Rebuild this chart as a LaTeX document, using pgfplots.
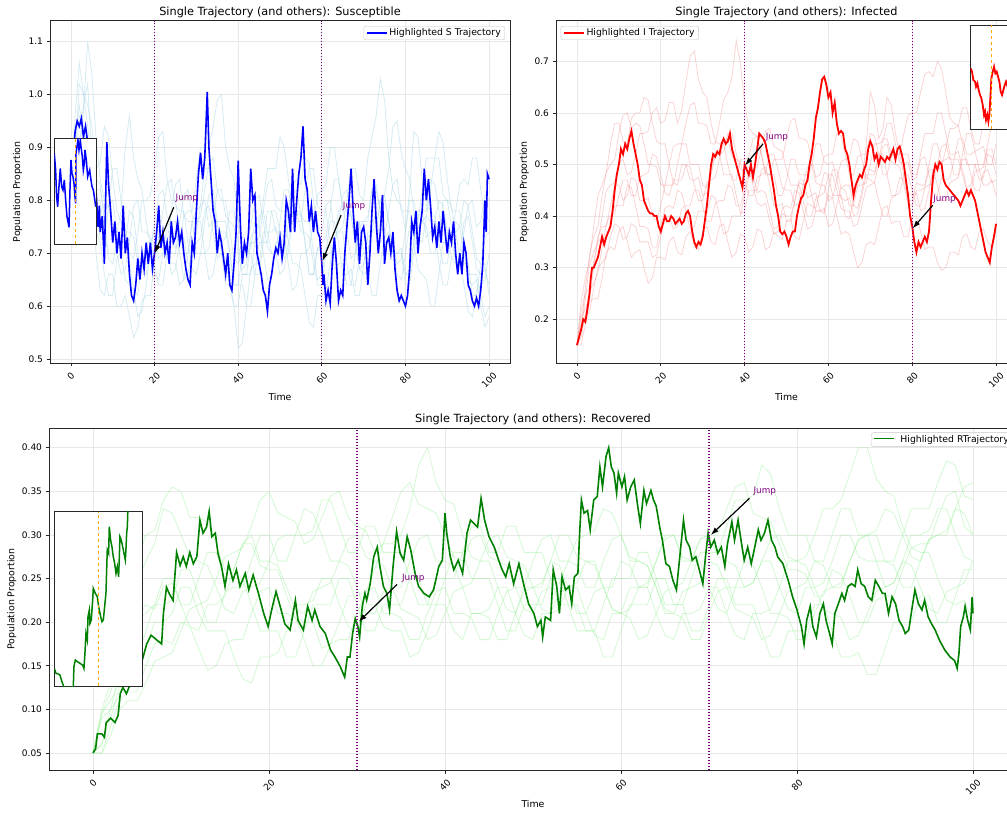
\documentclass[border=0pt]{standalone}
\usepackage{fontspec}
\setmainfont{DejaVu Sans}
\usepackage{graphicx}
\usepackage{pgfplots}
\pgfplotsset{compat=1.18}
\usepackage{pgfplotstable}
\usetikzlibrary{arrows.meta}

\definecolor{hlS}{RGB}{0,0,255}
\definecolor{bgS}{RGB}{173,216,230}
\definecolor{hlI}{RGB}{255,0,0}
\definecolor{bgI}{RGB}{240,128,128}
\definecolor{hlR}{RGB}{0,128,0}
\definecolor{bgR}{RGB}{144,238,144}
\definecolor{mpurple}{RGB}{128,0,128}
\definecolor{morange}{RGB}{255,165,0}
\definecolor{gridc}{RGB}{232,232,232}
\definecolor{spine}{RGB}{40,40,40}

\tikzset{
  vline/.style={mpurple, line width=1.2pt, dash pattern=on 1.2pt off 1.8pt},
  jumparrow/.style={-{Latex[length=8pt,width=5.5pt]}, line width=1.2pt, black},
  jumptext/.style={anchor=base west, text=mpurple, inner sep=0pt, font=\fontsize{8.8}{10}\selectfont},
}

\pgfplotsset{
  legend image code/.code={\draw[#1] (0pt,0pt) -- (20pt,0pt);},
}
\pgfplotsset{
  mainax/.style={
    scale only axis,
    xmin=-5, xmax=105,
    xtick={0,20,40,60,80,100},
    grid=major,
    major grid style={gridc, line width=0.8pt},
    axis line style={spine, line width=0.9pt},
    tick align=outside,
    major tick length=3.5pt,
    tick style={spine, line width=0.8pt},
    tick pos=left,
    /pgf/number format/assume math mode=true,
    tick label style={font=\fontsize{9}{10}\selectfont},
    xticklabel={\rotatebox{45}{\pgfmathprintnumber{\tick}}},
    xticklabel style={anchor=north, yshift=-2pt},
    label style={font=\fontsize{9.4}{11}\selectfont},
    every axis title/.style={at={(0.5,1)}, anchor=base, yshift=5.5pt, font=\fontsize{11.3}{13}\selectfont},
    xlabel={Time},
    ylabel={Population Proportion},
    xlabel style={at={(axis description cs:0.5,-0.0984)}, anchor=center},
    ylabel style={anchor=center},
    legend style={font=\fontsize{9.3}{10.5}\selectfont, draw=black!22, rounded corners=2pt, fill=white, fill opacity=0.8, text opacity=1, inner xsep=2pt, inner ysep=0.5pt},
    legend cell align=left,
  },
  insetax/.style={
    scale only axis, xmin=0, xmax=1, ymin=0, ymax=1, ticks=none,
    axis line style={spine, line width=0.9pt},
    axis background/.style={fill=white},
  },
}

\pgfplotstableread{
t a b c d e f g h
0 0.80 0.80 0.80 0.80 0.80 0.80 0.80 0.80
1 0.89 0.88 0.86 0.86 0.96 0.83 0.91 0.80
2 0.92 1.02 0.88 0.96 1.06 0.90 0.98 0.86
3 0.87 1.00 0.97 0.94 1.00 0.98 0.92 0.91
4 0.88 0.94 1.10 0.86 0.98 1.02 0.92 0.90
5 0.85 0.87 1.04 0.78 0.94 0.88 0.84 0.83
6 0.78 0.84 0.92 0.74 0.86 0.80 0.70 0.82
7 0.73 0.83 0.84 0.72 0.87 0.80 0.63 0.82
8 0.72 0.76 0.80 0.66 0.94 0.74 0.62 0.78
9 0.79 0.70 0.79 0.62 0.92 0.69 0.66 0.79
10 0.80 0.70 0.74 0.62 0.84 0.68 0.66 0.86
11 0.74 0.70 0.74 0.69 0.78 0.72 0.60 0.86
12 0.74 0.66 0.78 0.70 0.76 0.72 0.60 0.80
13 0.73 0.67 0.90 0.65 0.75 0.72 0.62 0.74
14 0.68 0.72 0.96 0.64 0.70 0.78 0.58 0.74
15 0.63 0.79 0.88 0.63 0.69 0.77 0.54 0.73
16 0.62 0.80 0.84 0.58 0.74 0.70 0.56 0.68
17 0.69 0.74 0.82 0.59 0.80 0.66 0.61 0.67
18 0.70 0.74 0.76 0.64 0.80 0.66 0.62 0.72
19 0.70 0.73 0.71 0.71 0.81 0.72 0.62 0.72
20 0.76 0.68 0.70 0.72 0.86 0.74 0.68 0.66
21 0.81 0.64 0.75 0.73 0.92 0.69 0.73 0.65
22 0.82 0.64 0.74 0.78 0.93 0.70 0.72 0.70
23 0.77 0.70 0.69 0.83 0.84 0.71 0.72 0.75
24 0.76 0.70 0.68 0.84 0.80 0.66 0.78 0.76
25 0.76 0.70 0.68 0.79 0.80 0.67 0.83 0.71
26 0.70 0.76 0.64 0.78 0.74 0.72 0.84 0.72
27 0.65 0.81 0.65 0.78 0.70 0.77 0.77 0.73
28 0.66 0.82 0.70 0.72 0.70 0.78 0.76 0.68
29 0.71 0.77 0.76 0.67 0.76 0.78 0.76 0.68
30 0.72 0.76 0.76 0.66 0.78 0.84 0.70 0.74
31 0.73 0.76 0.77 0.70 0.79 0.90 0.70 0.79
32 0.78 0.70 0.82 0.70 0.86 0.90 0.76 0.80
33 0.79 0.65 0.87 0.71 0.86 0.90 0.81 0.75
34 0.74 0.66 0.88 0.76 0.80 0.94 0.82 0.76
35 0.69 0.71 0.82 0.82 0.75 0.99 0.76 0.76
36 0.70 0.72 0.80 0.82 0.74 1.00 0.76 0.70
37 0.69 0.73 0.80 0.77 0.74 0.90 0.76 0.64
38 0.64 0.78 0.74 0.76 0.70 0.86 0.70 0.64
39 0.60 0.78 0.69 0.75 0.64 0.84 0.64 0.60
40 0.60 0.72 0.68 0.70 0.64 0.76 0.64 0.52
41 0.66 0.67 0.73 0.66 0.70 0.71 0.64 0.53
42 0.66 0.68 0.74 0.66 0.70 0.70 0.60 0.60
43 0.66 0.73 0.75 0.72 0.71 0.70 0.60 0.67
44 0.72 0.74 0.80 0.72 0.76 0.66 0.66 0.68
45 0.77 0.75 0.81 0.73 0.75 0.66 0.72 0.68
46 0.78 0.80 0.76 0.78 0.70 0.72 0.72 0.74
47 0.74 0.86 0.71 0.83 0.65 0.78 0.72 0.74
48 0.74 0.86 0.70 0.84 0.66 0.78 0.78 0.70
49 0.75 0.86 0.70 0.79 0.72 0.74 0.78 0.70
50 0.70 0.92 0.66 0.78 0.72 0.74 0.74 0.76
51 0.70 0.90 0.67 0.78 0.73 0.73 0.69 0.82
52 0.76 0.84 0.72 0.72 0.78 0.68 0.70 0.82
53 0.81 0.79 0.78 0.68 0.83 0.63 0.76 0.77
54 0.82 0.78 0.78 0.68 0.84 0.64 0.76 0.78
55 0.77 0.78 0.74 0.67 0.83 0.70 0.76 0.77
56 0.76 0.72 0.74 0.62 0.88 0.70 0.82 0.72
57 0.76 0.66 0.73 0.57 0.87 0.71 0.86 0.66
58 0.70 0.66 0.68 0.56 0.80 0.76 0.86 0.66
59 0.65 0.71 0.64 0.62 0.75 0.81 0.79 0.71
60 0.66 0.72 0.64 0.62 0.74 0.82 0.78 0.70
61 0.71 0.73 0.70 0.63 0.79 0.83 0.78 0.70
62 0.72 0.78 0.70 0.68 0.80 0.90 0.72 0.76
63 0.73 0.84 0.71 0.73 0.74 0.90 0.67 0.76
64 0.78 0.84 0.76 0.74 0.74 0.84 0.68 0.72
65 0.79 0.78 0.81 0.75 0.74 0.79 0.68 0.66
66 0.74 0.78 0.82 0.80 0.68 0.78 0.64 0.66
67 0.69 0.77 0.77 0.86 0.64 0.77 0.64 0.67
68 0.70 0.72 0.76 0.86 0.64 0.72 0.70 0.62
69 0.75 0.67 0.76 0.81 0.69 0.67 0.76 0.62
70 0.76 0.66 0.70 0.80 0.70 0.68 0.76 0.68
71 0.77 0.67 0.70 0.88 0.70 0.74 0.76 0.73
72 0.82 0.62 0.74 0.92 0.76 0.74 0.82 0.74
73 0.83 0.62 0.79 0.96 0.77 0.75 0.82 0.74
74 0.78 0.68 0.80 1.03 0.72 0.80 0.78 0.80
75 0.72 0.73 0.81 0.99 0.73 0.80 0.72 0.81
76 0.72 0.74 0.86 0.88 0.78 0.76 0.72 0.76
77 0.72 0.70 0.94 0.82 0.83 0.70 0.72 0.70
78 0.68 0.70 0.95 0.80 0.84 0.70 0.66 0.70
79 0.69 0.70 0.89 0.79 0.78 0.71 0.65 0.70
80 0.74 0.64 0.86 0.74 0.78 0.66 0.70 0.66
81 0.80 0.64 0.84 0.82 0.78 0.67 0.75 0.66
82 0.80 0.70 0.78 0.93 0.72 0.72 0.76 0.72
83 0.75 0.75 0.73 0.92 0.67 0.77 0.76 0.78
84 0.76 0.76 0.72 0.84 0.66 0.78 0.82 0.78
85 0.75 0.77 0.77 0.79 0.65 0.73 0.88 0.78
86 0.70 0.82 0.76 0.78 0.60 0.74 0.88 0.84
87 0.70 0.88 0.76 0.77 0.60 0.74 0.88 0.83
88 0.74 0.88 0.80 0.72 0.66 0.68 0.93 0.78
89 0.80 0.81 0.79 0.68 0.72 0.64 0.91 0.72
90 0.80 0.80 0.74 0.68 0.72 0.64 0.84 0.72
91 0.75 0.79 0.69 0.74 0.73 0.69 0.78 0.73
92 0.76 0.74 0.68 0.74 0.78 0.70 0.78 0.68
93 0.75 0.69 0.69 0.75 0.83 0.70 0.78 0.68
94 0.70 0.68 0.64 0.80 0.84 0.76 0.72 0.74
95 0.65 0.68 0.59 0.79 0.83 0.77 0.66 0.79
96 0.64 0.62 0.58 0.74 0.88 0.72 0.66 0.80
97 0.65 0.62 0.63 0.69 0.88 0.67 0.66 0.75
98 0.60 0.68 0.64 0.68 0.82 0.66 0.62 0.76
99 0.56 0.73 0.65 0.68 0.77 0.67 0.58 0.81
100 0.58 0.74 0.70 0.62 0.76 0.64 0.60 0.80
}\tblS

\pgfplotstableread{
t a b c d e f g h
0 0.15 0.15 0.15 0.15 0.15 0.15 0.15 0.15
1 0.205 0.185 0.19 0.18 0.235 0.165 0.215 0.15
2 0.22 0.26 0.20 0.24 0.28 0.21 0.25 0.19
3 0.24 0.325 0.215 0.305 0.315 0.255 0.26 0.235
4 0.30 0.36 0.26 0.33 0.38 0.27 0.31 0.24
5 0.36 0.38 0.30 0.35 0.44 0.29 0.35 0.24
6 0.38 0.44 0.31 0.40 0.46 0.34 0.36 0.28
7 0.38 0.485 0.32 0.45 0.485 0.385 0.355 0.33
8 0.42 0.50 0.36 0.46 0.54 0.40 0.39 0.34
9 0.46 0.51 0.385 0.465 0.58 0.405 0.42 0.335
10 0.46 0.56 0.38 0.50 0.58 0.44 0.42 0.37
11 0.43 0.595 0.355 0.51 0.545 0.47 0.42 0.38
12 0.44 0.60 0.36 0.48 0.54 0.47 0.46 0.35
13 0.475 0.57 0.385 0.485 0.59 0.44 0.455 0.32
14 0.47 0.58 0.38 0.52 0.60 0.44 0.42 0.33
15 0.43 0.575 0.35 0.56 0.60 0.475 0.38 0.335
16 0.43 0.54 0.35 0.56 0.63 0.48 0.38 0.30
17 0.435 0.50 0.35 0.565 0.625 0.485 0.375 0.27
18 0.40 0.50 0.32 0.60 0.58 0.52 0.34 0.28
19 0.39 0.495 0.325 0.61 0.545 0.515 0.34 0.32
20 0.42 0.46 0.36 0.58 0.54 0.48 0.38 0.32
21 0.46 0.46 0.395 0.585 0.54 0.445 0.415 0.315
22 0.46 0.50 0.40 0.62 0.50 0.44 0.42 0.35
23 0.46 0.535 0.375 0.62 0.465 0.47 0.415 0.36
24 0.50 0.54 0.38 0.58 0.46 0.47 0.45 0.33
25 0.54 0.54 0.415 0.605 0.50 0.47 0.445 0.325
26 0.54 0.58 0.42 0.66 0.50 0.50 0.41 0.36
27 0.50 0.615 0.42 0.71 0.47 0.495 0.375 0.37
28 0.50 0.62 0.45 0.72 0.47 0.46 0.38 0.34
29 0.50 0.58 0.45 0.665 0.475 0.43 0.41 0.335
30 0.46 0.58 0.42 0.64 0.44 0.43 0.41 0.37
31 0.455 0.575 0.39 0.63 0.445 0.465 0.405 0.38
32 0.49 0.54 0.39 0.58 0.48 0.47 0.44 0.35
33 0.525 0.54 0.425 0.545 0.52 0.475 0.435 0.345
34 0.52 0.58 0.43 0.54 0.52 0.51 0.40 0.38
35 0.48 0.625 0.43 0.54 0.525 0.545 0.365 0.385
36 0.48 0.64 0.46 0.50 0.56 0.55 0.37 0.35
37 0.48 0.67 0.455 0.47 0.56 0.515 0.40 0.32
38 0.44 0.74 0.42 0.47 0.52 0.51 0.40 0.33
39 0.405 0.695 0.42 0.51 0.49 0.505 0.40 0.365
40 0.41 0.62 0.45 0.51 0.49 0.47 0.44 0.36
41 0.45 0.57 0.485 0.515 0.495 0.44 0.475 0.33
42 0.45 0.56 0.49 0.55 0.46 0.44 0.48 0.34
43 0.45 0.555 0.495 0.555 0.425 0.475 0.445 0.375
44 0.49 0.52 0.53 0.52 0.42 0.48 0.45 0.37
45 0.495 0.48 0.565 0.485 0.425 0.485 0.445 0.335
46 0.46 0.48 0.57 0.48 0.39 0.52 0.41 0.34
47 0.42 0.51 0.535 0.48 0.365 0.52 0.375 0.37
48 0.42 0.51 0.53 0.44 0.37 0.49 0.38 0.36
49 0.425 0.51 0.525 0.44 0.405 0.455 0.415 0.355
50 0.39 0.55 0.49 0.47 0.40 0.45 0.42 0.39
51 0.39 0.585 0.46 0.51 0.40 0.45 0.415 0.395
52 0.43 0.59 0.46 0.51 0.43 0.42 0.45 0.36
53 0.47 0.55 0.46 0.48 0.465 0.425 0.445 0.355
54 0.47 0.55 0.43 0.48 0.46 0.46 0.41 0.39
55 0.435 0.545 0.40 0.48 0.465 0.495 0.375 0.425
56 0.44 0.51 0.40 0.44 0.50 0.50 0.38 0.42
57 0.445 0.475 0.435 0.41 0.54 0.465 0.41 0.415
58 0.41 0.48 0.44 0.41 0.54 0.46 0.41 0.45
59 0.41 0.515 0.445 0.415 0.505 0.46 0.405 0.485
60 0.45 0.52 0.48 0.38 0.50 0.43 0.44 0.48
61 0.49 0.52 0.48 0.385 0.505 0.435 0.435 0.44
62 0.49 0.56 0.45 0.42 0.47 0.47 0.40 0.44
63 0.455 0.555 0.415 0.455 0.435 0.505 0.365 0.44
64 0.46 0.52 0.41 0.45 0.43 0.51 0.37 0.40
65 0.46 0.48 0.41 0.42 0.435 0.515 0.365 0.395
66 0.42 0.48 0.38 0.42 0.40 0.55 0.33 0.43
67 0.415 0.515 0.385 0.46 0.405 0.545 0.30 0.47
68 0.45 0.52 0.42 0.46 0.44 0.51 0.31 0.47
69 0.49 0.52 0.455 0.465 0.48 0.475 0.345 0.535
70 0.49 0.56 0.46 0.50 0.48 0.47 0.35 0.64
71 0.485 0.555 0.465 0.54 0.48 0.465 0.345 0.615
72 0.52 0.52 0.50 0.54 0.51 0.43 0.38 0.55
73 0.52 0.48 0.535 0.545 0.55 0.40 0.415 0.57
74 0.48 0.48 0.54 0.58 0.55 0.40 0.42 0.63
75 0.44 0.515 0.505 0.58 0.52 0.435 0.385 0.615
76 0.44 0.52 0.50 0.54 0.52 0.44 0.39 0.56
77 0.475 0.52 0.495 0.505 0.52 0.445 0.39 0.52
78 0.47 0.56 0.46 0.50 0.48 0.48 0.36 0.52
79 0.43 0.595 0.425 0.505 0.445 0.48 0.36 0.52
80 0.43 0.60 0.42 0.47 0.44 0.45 0.40 0.48
81 0.465 0.60 0.45 0.475 0.445 0.42 0.40 0.48
82 0.46 0.64 0.45 0.51 0.41 0.42 0.37 0.52
83 0.46 0.675 0.455 0.515 0.415 0.455 0.335 0.56
84 0.50 0.68 0.49 0.48 0.45 0.46 0.34 0.56
85 0.54 0.67 0.49 0.445 0.49 0.465 0.34 0.56
86 0.54 0.70 0.46 0.44 0.49 0.50 0.31 0.60
87 0.505 0.685 0.43 0.475 0.495 0.535 0.295 0.60
88 0.51 0.64 0.43 0.47 0.53 0.54 0.30 0.56
89 0.515 0.59 0.465 0.475 0.57 0.51 0.33 0.52
90 0.48 0.58 0.47 0.51 0.57 0.51 0.33 0.52
91 0.48 0.575 0.475 0.55 0.575 0.51 0.325 0.525
92 0.52 0.54 0.51 0.55 0.61 0.48 0.36 0.49
93 0.56 0.50 0.51 0.52 0.61 0.45 0.365 0.455
94 0.56 0.50 0.48 0.52 0.57 0.45 0.34 0.46
95 0.525 0.50 0.45 0.525 0.54 0.485 0.335 0.50
96 0.53 0.47 0.45 0.49 0.54 0.49 0.37 0.50
97 0.535 0.475 0.485 0.46 0.58 0.495 0.375 0.50
98 0.50 0.52 0.49 0.46 0.58 0.53 0.35 0.54
99 0.50 0.515 0.465 0.47 0.575 0.53 0.34 0.58
100 0.54 0.48 0.47 0.44 0.60 0.50 0.37 0.58
}\tblI

\pgfplotstableread{
t a b c d e f g h
0 0.05 0.05 0.05 0.05 0.05 0.05 0.05 0.05
1 0.09 0.05 0.095 0.06 0.095 0.05 0.10 0.06
2 0.10 0.08 0.12 0.09 0.11 0.07 0.13 0.10
3 0.115 0.11 0.15 0.125 0.13 0.10 0.16 0.14
4 0.16 0.12 0.20 0.13 0.17 0.11 0.22 0.15
5 0.205 0.12 0.245 0.14 0.205 0.11 0.27 0.155
6 0.22 0.15 0.27 0.17 0.21 0.13 0.30 0.19
7 0.215 0.175 0.29 0.20 0.22 0.155 0.305 0.22
8 0.24 0.18 0.33 0.20 0.25 0.16 0.34 0.22
9 0.245 0.175 0.325 0.21 0.25 0.165 0.355 0.225
10 0.22 0.20 0.30 0.24 0.22 0.19 0.35 0.26
11 0.22 0.195 0.275 0.24 0.195 0.215 0.32 0.26
12 0.25 0.17 0.27 0.21 0.19 0.22 0.32 0.23
13 0.28 0.145 0.265 0.19 0.22 0.225 0.315 0.20
14 0.28 0.15 0.24 0.19 0.22 0.25 0.29 0.20
15 0.25 0.175 0.215 0.19 0.23 0.275 0.26 0.235
16 0.25 0.18 0.21 0.16 0.26 0.28 0.26 0.24
17 0.25 0.18 0.235 0.135 0.29 0.285 0.29 0.24
18 0.22 0.21 0.24 0.13 0.29 0.31 0.30 0.27
19 0.19 0.235 0.245 0.16 0.265 0.34 0.27 0.30
20 0.19 0.24 0.27 0.16 0.26 0.35 0.27 0.30
21 0.19 0.21 0.265 0.165 0.26 0.325 0.295 0.27
22 0.16 0.21 0.24 0.19 0.23 0.32 0.30 0.27
23 0.16 0.205 0.215 0.22 0.205 0.315 0.30 0.30
24 0.19 0.18 0.21 0.22 0.20 0.29 0.33 0.30
25 0.22 0.15 0.235 0.225 0.20 0.295 0.325 0.305
26 0.22 0.15 0.24 0.25 0.17 0.32 0.30 0.34
27 0.22 0.175 0.245 0.25 0.175 0.345 0.27 0.34
28 0.25 0.18 0.27 0.22 0.20 0.35 0.27 0.31
29 0.25 0.18 0.295 0.195 0.23 0.32 0.265 0.28
30 0.22 0.21 0.30 0.19 0.23 0.31 0.24 0.28
31 0.19 0.235 0.275 0.22 0.235 0.305 0.21 0.31
32 0.19 0.24 0.27 0.22 0.26 0.28 0.21 0.31
33 0.22 0.21 0.265 0.195 0.29 0.29 0.235 0.28
34 0.22 0.21 0.24 0.19 0.29 0.32 0.24 0.28
35 0.22 0.205 0.215 0.19 0.30 0.35 0.24 0.28
36 0.25 0.18 0.21 0.16 0.33 0.36 0.27 0.25
37 0.25 0.18 0.205 0.165 0.38 0.335 0.295 0.22
38 0.22 0.21 0.18 0.19 0.40 0.33 0.30 0.22
39 0.22 0.235 0.185 0.22 0.36 0.325 0.27 0.25
40 0.25 0.24 0.21 0.22 0.34 0.30 0.27 0.25
41 0.28 0.21 0.235 0.19 0.335 0.275 0.265 0.25
42 0.28 0.21 0.24 0.18 0.30 0.27 0.24 0.28
43 0.25 0.205 0.245 0.21 0.275 0.295 0.21 0.31
44 0.25 0.18 0.27 0.21 0.27 0.30 0.21 0.31
45 0.25 0.18 0.295 0.215 0.27 0.275 0.205 0.28
46 0.22 0.21 0.30 0.24 0.24 0.27 0.18 0.28
47 0.19 0.235 0.275 0.24 0.215 0.265 0.18 0.31
48 0.19 0.24 0.27 0.21 0.21 0.24 0.21 0.31
49 0.22 0.24 0.265 0.185 0.24 0.215 0.235 0.28
50 0.22 0.27 0.24 0.18 0.24 0.21 0.24 0.28
51 0.22 0.295 0.215 0.21 0.245 0.235 0.24 0.28
52 0.25 0.30 0.21 0.21 0.27 0.24 0.27 0.25
53 0.25 0.27 0.235 0.215 0.30 0.245 0.265 0.22
54 0.22 0.27 0.24 0.24 0.30 0.27 0.24 0.22
55 0.19 0.265 0.245 0.24 0.275 0.295 0.21 0.22
56 0.19 0.24 0.27 0.21 0.27 0.30 0.21 0.19
57 0.19 0.24 0.265 0.185 0.27 0.305 0.235 0.19
58 0.16 0.27 0.24 0.18 0.24 0.33 0.24 0.22
59 0.16 0.295 0.215 0.21 0.215 0.325 0.24 0.25
60 0.19 0.30 0.21 0.21 0.21 0.30 0.27 0.25
61 0.22 0.27 0.205 0.215 0.24 0.275 0.265 0.25
62 0.22 0.27 0.18 0.24 0.24 0.27 0.24 0.28
63 0.22 0.265 0.185 0.24 0.245 0.265 0.24 0.28
64 0.25 0.24 0.21 0.21 0.27 0.24 0.27 0.25
65 0.25 0.21 0.235 0.185 0.30 0.215 0.295 0.22
66 0.22 0.21 0.24 0.18 0.30 0.21 0.30 0.22
67 0.22 0.205 0.245 0.21 0.275 0.235 0.27 0.22
68 0.25 0.18 0.27 0.21 0.27 0.24 0.27 0.19
69 0.28 0.18 0.295 0.215 0.27 0.245 0.295 0.19
70 0.28 0.21 0.30 0.24 0.24 0.27 0.30 0.22
71 0.28 0.235 0.275 0.24 0.215 0.265 0.30 0.25
72 0.31 0.24 0.27 0.21 0.21 0.24 0.33 0.25
73 0.34 0.24 0.265 0.185 0.24 0.215 0.355 0.22
74 0.34 0.27 0.24 0.18 0.24 0.21 0.36 0.22
75 0.345 0.265 0.245 0.21 0.245 0.205 0.325 0.22
76 0.38 0.24 0.27 0.21 0.27 0.18 0.32 0.19
77 0.37 0.21 0.295 0.215 0.27 0.185 0.315 0.16
78 0.33 0.21 0.30 0.24 0.24 0.21 0.29 0.16
79 0.30 0.205 0.275 0.27 0.215 0.235 0.26 0.19
80 0.30 0.18 0.27 0.27 0.21 0.24 0.26 0.19
81 0.30 0.18 0.265 0.275 0.24 0.245 0.255 0.19
82 0.27 0.21 0.24 0.30 0.24 0.27 0.23 0.22
83 0.27 0.235 0.215 0.33 0.245 0.265 0.23 0.22
84 0.30 0.24 0.21 0.33 0.27 0.24 0.26 0.19
85 0.33 0.24 0.205 0.34 0.30 0.245 0.255 0.16
86 0.33 0.27 0.18 0.37 0.30 0.27 0.23 0.16
87 0.30 0.295 0.185 0.40 0.275 0.295 0.20 0.165
88 0.30 0.30 0.21 0.40 0.27 0.30 0.20 0.14
89 0.30 0.27 0.235 0.365 0.27 0.305 0.225 0.14
90 0.27 0.27 0.24 0.35 0.24 0.33 0.23 0.17
91 0.27 0.265 0.245 0.345 0.245 0.325 0.23 0.20
92 0.30 0.24 0.27 0.31 0.27 0.30 0.26 0.20
93 0.33 0.24 0.265 0.285 0.30 0.275 0.285 0.20
94 0.33 0.27 0.24 0.28 0.30 0.27 0.29 0.23
95 0.33 0.295 0.215 0.28 0.305 0.295 0.29 0.23
96 0.36 0.30 0.21 0.25 0.33 0.30 0.32 0.20
97 0.385 0.30 0.235 0.225 0.33 0.305 0.345 0.20
98 0.38 0.33 0.24 0.22 0.30 0.33 0.35 0.23
99 0.345 0.325 0.245 0.225 0.275 0.355 0.31 0.26
100 0.34 0.30 0.27 0.20 0.27 0.36 0.30 0.26
}\tblR

\begin{document}
\begin{tikzpicture}
\useasboundingbox (0pt,0pt) rectangle (1007pt,812pt);
\clip (0pt,0pt) rectangle (1007pt,812pt);

% ---------------- Susceptible ----------------
\begin{axis}[mainax, at={(50pt,449pt)}, width=460pt, height=342.3pt,
  ymin=0.4924, ymax=1.1397, ytick={0.5,0.6,0.7,0.8,0.9,1.0,1.1},
  yticklabel style={/pgf/number format/.cd,fixed,fixed zerofill,precision=1},
  title={Single Trajectory (and others): Susceptible},
  ylabel style={at={(axis description cs:-0.0707,0.5)}},
  legend style={at={(0.989,0.9845)}, anchor=north east}]
\pgfplotsinvokeforeach{a,b,c,d,e,f,g,h}{\addplot[bgS, opacity=0.5, line width=0.8pt, forget plot] table[x=t,y=#1]{\tblS};}
\addplot[hlS, line width=1.6pt, forget plot] coordinates {
(0,0.80) (0.5,0.88) (1,0.93) (1.5,0.95) (2,0.94) (2.5,0.955) (3,0.92) (3.5,0.94) (4,0.91) (4.5,0.90)
(5,0.88) (5.5,0.85) (6,0.82) (6.5,0.75) (6.8,0.79) (7,0.74) (7.5,0.77) (8,0.68) (8.3,0.80) (8.6,0.91)
(9,0.83) (9.5,0.78) (10,0.72) (10.5,0.76) (11,0.70) (11.5,0.74) (12,0.69) (12.5,0.79) (13,0.70) (13.5,0.73)
(14,0.66) (14.5,0.62) (15,0.61) (15.5,0.64) (16,0.69) (16.5,0.65) (17,0.70) (17.5,0.67) (18,0.72) (18.5,0.68)
(19,0.72) (19.5,0.67) (20,0.70) (20.5,0.74) (21,0.79) (21.5,0.71) (22,0.74) (22.5,0.70) (23,0.72) (23.5,0.68)
(24,0.76) (24.5,0.72) (25,0.73) (25.5,0.76) (26,0.72) (26.5,0.74) (27,0.70) (27.5,0.67) (28,0.65) (28.5,0.64)
(29,0.72) (29.5,0.70) (30,0.78) (30.5,0.85) (31,0.89) (31.5,0.84) (32,0.88) (32.3,0.94) (32.6,1.005) (33,0.90)
(33.5,0.84) (34,0.78) (34.5,0.76) (35,0.70) (35.5,0.74) (36,0.72) (36.5,0.69) (37,0.66) (37.5,0.70) (38,0.64)
(38.5,0.63) (39,0.68) (39.5,0.74) (40,0.875) (40.3,0.80) (40.6,0.74) (41,0.68) (41.5,0.72) (42,0.70) (42.5,0.74)
(43,0.86) (43.5,0.80) (44,0.81) (44.5,0.70) (45,0.68) (45.5,0.66) (46,0.63) (46.5,0.62) (47,0.59) (47.5,0.64)
(48,0.66) (48.5,0.69) (49,0.71) (49.5,0.70) (50,0.73) (50.5,0.69) (51,0.72) (51.5,0.80) (52,0.78) (52.5,0.74)
(53,0.86) (53.5,0.74) (54,0.80) (54.5,0.85) (55,0.88) (55.5,0.94) (56,0.84) (56.5,0.82) (57,0.76) (57.5,0.79)
(58,0.74) (58.5,0.78) (59,0.74) (59.5,0.73) (60,0.68) (60.3,0.64) (60.5,0.66) (61,0.61) (61.5,0.63) (62,0.605)
(62.5,0.68) (63,0.73) (63.5,0.68) (64,0.61) (64.5,0.63) (65,0.62) (65.5,0.70) (66,0.75) (66.5,0.80) (67,0.86)
(67.5,0.78) (68,0.72) (68.5,0.76) (69,0.68) (69.5,0.74) (70,0.75) (70.5,0.72) (71,0.64) (71.5,0.70) (72,0.78)
(72.5,0.84) (73,0.76) (73.5,0.70) (74,0.74) (74.5,0.81) (75,0.68) (75.5,0.72) (76,0.73) (76.5,0.70) (77,0.74)
(77.5,0.67) (78,0.63) (78.5,0.61) (79,0.62) (79.5,0.61) (80,0.60) (80.5,0.62) (81,0.67) (81.5,0.76) (82,0.74)
(82.5,0.78) (83,0.70) (83.5,0.75) (84,0.78) (84.5,0.86) (85,0.80) (85.5,0.84) (86,0.79) (86.5,0.73) (87,0.75)
(87.5,0.71) (88,0.76) (88.5,0.72) (89,0.78) (89.5,0.74) (90,0.70) (90.5,0.74) (91,0.72) (91.5,0.76) (92,0.70)
(92.5,0.66) (93,0.70) (93.5,0.66) (94,0.72) (94.5,0.70) (95,0.64) (95.5,0.63) (96,0.61) (96.5,0.60) (97,0.615)
(97.5,0.60) (98,0.63) (98.5,0.68) (99,0.80) (99.3,0.74) (99.6,0.85) (100,0.84)
};
\addlegendimage{hlS, line width=1.6pt}
\addlegendentry{Highlighted S Trajectory}
\addplot[vline, forget plot] coordinates {(20,0.4924) (20,1.1397)};
\addplot[vline, forget plot] coordinates {(60,0.4924) (60,1.1397)};
\draw[jumparrow] (axis cs:24.6,0.787) -- (axis cs:20.05,0.700);
\node[jumptext] at (axis cs:25,0.80) {Jump};
\draw[jumparrow] (axis cs:64.6,0.772) -- (axis cs:60.15,0.685);
\node[jumptext] at (axis cs:65,0.784) {Jump};
\end{axis}

% ---------------- Infected ----------------
\begin{axis}[mainax, at={(556pt,449pt)}, width=461pt, height=342.3pt,
  ymin=0.1153, ymax=0.7787, ytick={0.2,0.3,0.4,0.5,0.6,0.7},
  yticklabel style={/pgf/number format/.cd,fixed,fixed zerofill,precision=1},
  title={Single Trajectory (and others): Infected},
  ylabel style={at={(axis description cs:-0.0688,0.5)}},
  legend style={at={(0.0102,0.9845)}, anchor=north west}]
\pgfplotsinvokeforeach{a,b,c,d,e,f,g,h}{\addplot[bgI, opacity=0.35, line width=0.8pt, forget plot] table[x=t,y=#1]{\tblI};}
\addplot[hlI, line width=1.8pt, forget plot] coordinates {
(0,0.150) (0.5,0.165) (1,0.180) (1.5,0.200) (2,0.195) (2.5,0.220) (3,0.250) (3.3,0.280) (3.6,0.300) (4,0.300)
(4.5,0.310) (5,0.320) (5.5,0.340) (6,0.360) (6.5,0.345) (7,0.360) (7.5,0.370) (8,0.380) (8.5,0.410) (9,0.450)
(9.5,0.480) (10,0.500) (10.5,0.530) (11,0.520) (11.5,0.540) (12,0.530) (12.5,0.550) (13,0.565) (13.5,0.540) (14,0.520)
(14.5,0.500) (15,0.470) (15.5,0.460) (16,0.430) (16.5,0.420) (17,0.410) (17.5,0.405) (18,0.405) (18.5,0.400) (19,0.400)
(19.5,0.380) (20,0.370) (20.5,0.385) (21,0.400) (21.5,0.390) (22,0.390) (22.5,0.400) (23,0.395) (23.5,0.385) (24,0.390)
(24.5,0.395) (25,0.385) (25.5,0.390) (26,0.405) (26.5,0.410) (27,0.400) (27.5,0.370) (28,0.350) (28.5,0.340) (29,0.350)
(29.5,0.345) (30,0.360) (30.5,0.390) (31,0.420) (31.5,0.460) (32,0.500) (32.5,0.520) (33,0.515) (33.5,0.525) (34,0.520)
(34.5,0.540) (35,0.550) (35.5,0.540) (36,0.545) (36.5,0.560) (37,0.530) (37.5,0.515) (38,0.500) (38.5,0.485) (39,0.470)
(39.5,0.455) (40,0.500) (40.5,0.490) (41,0.480) (41.5,0.500) (42,0.475) (42.5,0.500) (43,0.530) (43.5,0.560) (44,0.555)
(44.5,0.550) (45,0.540) (45.5,0.520) (46,0.500) (46.5,0.475) (47,0.450) (47.5,0.420) (48,0.400) (48.5,0.370) (49,0.365)
(49.5,0.370) (50,0.360) (50.5,0.345) (51,0.360) (51.5,0.370) (52,0.370) (52.5,0.400) (53,0.420) (53.5,0.435) (54,0.440)
(54.5,0.460) (55,0.470) (55.5,0.500) (56,0.520) (56.5,0.550) (57,0.590) (57.5,0.610) (58,0.640) (58.5,0.665) (59,0.670)
(59.5,0.655) (60,0.630) (60.5,0.640) (61,0.600) (61.5,0.620) (62,0.580) (62.5,0.560) (63,0.565) (63.5,0.560) (64,0.530)
(64.5,0.520) (65,0.500) (65.5,0.470) (66,0.440) (66.5,0.460) (67,0.470) (67.5,0.480) (68,0.475) (68.5,0.490) (69,0.500)
(69.5,0.530) (70,0.545) (70.5,0.535) (71,0.510) (71.5,0.520) (72,0.500) (72.5,0.515) (73,0.510) (73.5,0.505) (74,0.515)
(74.5,0.510) (75,0.520) (75.5,0.530) (76,0.510) (76.5,0.530) (77,0.535) (77.5,0.520) (78,0.500) (78.5,0.470) (79,0.440)
(79.5,0.400) (80,0.380) (80.5,0.350) (81,0.330) (81.5,0.350) (82,0.340) (82.5,0.350) (83,0.360) (83.5,0.350) (84,0.370)
(84.5,0.430) (85,0.480) (85.5,0.500) (86,0.490) (86.5,0.505) (87,0.500) (87.5,0.470) (88,0.460) (88.5,0.455) (89,0.450)
(89.5,0.445) (90,0.440) (90.5,0.435) (91,0.430) (91.5,0.420) (92,0.430) (92.5,0.440) (93,0.450) (93.5,0.440) (94,0.450)
(94.5,0.440) (95,0.430) (95.5,0.410) (96,0.390) (96.5,0.370) (97,0.350) (97.5,0.330) (98,0.320) (98.5,0.310) (99,0.340)
(99.5,0.360) (100,0.385)
};
\addlegendimage{hlI, line width=1.6pt}
\addlegendentry{Highlighted I Trajectory}
\addplot[vline, forget plot] coordinates {(40,0.1153) (40,0.7787)};
\addplot[vline, forget plot] coordinates {(80,0.1153) (80,0.7787)};
\draw[jumparrow] (axis cs:44.4,0.540) -- (axis cs:40.1,0.498);
\node[jumptext] at (axis cs:45,0.548) {Jump};
\draw[jumparrow] (axis cs:84.9,0.421) -- (axis cs:80.1,0.376);
\node[jumptext] at (axis cs:85,0.428) {Jump};
\end{axis}

% ---------------- Recovered ----------------
\begin{axis}[mainax, at={(49pt,42pt)}, width=968pt, height=342pt,
  ymin=0.0305, ymax=0.4226, ytick={0.05,0.10,0.15,0.20,0.25,0.30,0.35,0.40},
  yticklabel style={/pgf/number format/.cd,fixed,fixed zerofill,precision=2},
  title={Single Trajectory (and others): Recovered},
  xlabel style={at={(axis description cs:0.5,-0.0994)}},
  ylabel style={at={(axis description cs:-0.0385,0.5)}}]
\pgfplotsinvokeforeach{a,b,c,d,e,f,g,h}{\addplot[bgR, opacity=0.4, line width=0.8pt, forget plot] table[x=t,y=#1]{\tblR};}
\addplot[hlR, line width=1.6pt, forget plot] coordinates {
(0,0.050) (0.3,0.055) (0.5,0.072) (1,0.072) (1.3,0.068) (1.5,0.085) (2,0.090) (2.5,0.085) (2.85,0.093) (3.1,0.118)
(3.4,0.125) (3.8,0.118) (4.2,0.128) (4.6,0.135) (5.0,0.140) (5.4,0.150) (5.7,0.160) (6.1,0.175) (6.6,0.185) (7.2,0.180)
(7.8,0.175) (8.0,0.210) (8.35,0.240) (8.7,0.232) (9.1,0.225) (9.5,0.280) (9.9,0.265) (10.25,0.275) (10.6,0.264) (11.0,0.280)
(11.4,0.267) (11.8,0.275) (12.15,0.317) (12.5,0.302) (12.9,0.309) (13.2,0.327) (13.5,0.298) (13.9,0.302) (14.2,0.279) (14.6,0.264)
(15.0,0.241) (15.4,0.267) (15.9,0.248) (16.3,0.260) (16.7,0.241) (17.3,0.256) (17.7,0.237) (18.2,0.254) (18.8,0.233) (19.4,0.210)
(19.9,0.195) (20.3,0.214) (20.8,0.235) (21.3,0.217) (21.8,0.198) (22.4,0.191) (23.0,0.225) (23.3,0.202) (23.9,0.191) (24.4,0.218)
(24.9,0.202) (25.2,0.214) (25.8,0.195) (26.4,0.187) (27.0,0.168) (27.5,0.160) (28.1,0.149) (28.6,0.137) (28.9,0.160) (29.2,0.160)
(29.5,0.187) (29.8,0.204) (30.1,0.195) (30.3,0.183) (30.6,0.218) (30.9,0.233) (31.1,0.225) (31.5,0.244) (31.9,0.275) (32.3,0.286)
(32.6,0.264) (33.0,0.241) (33.4,0.233) (33.7,0.214) (34.1,0.264) (34.5,0.304) (34.9,0.279) (35.3,0.271) (35.7,0.298) (36.1,0.283)
(36.6,0.256) (37.0,0.241) (37.6,0.233) (38.2,0.229) (38.7,0.237) (39.3,0.264) (39.7,0.271) (40.0,0.325) (40.2,0.302) (40.6,0.275)
(41.0,0.260) (41.5,0.271) (42.0,0.256) (42.5,0.302) (42.9,0.317) (43.3,0.313) (43.7,0.309) (44.1,0.342) (44.5,0.317) (45.0,0.298)
(45.6,0.286) (46.1,0.271) (46.5,0.260) (46.9,0.252) (47.3,0.267) (47.8,0.244) (48.4,0.267) (49.0,0.241) (49.5,0.221) (50.1,0.210)
(50.5,0.195) (50.9,0.202) (51.1,0.183) (51.4,0.206) (52.0,0.202) (52.3,0.260) (52.7,0.241) (53.0,0.210) (53.3,0.252) (53.7,0.237)
(54.1,0.241) (54.4,0.221) (54.7,0.252) (55.1,0.256) (55.3,0.302) (55.5,0.340) (55.8,0.325) (56.2,0.328) (56.5,0.306) (56.9,0.340)
(57.3,0.344) (57.6,0.378) (57.9,0.355) (58.3,0.390) (58.6,0.400) (58.9,0.378) (59.2,0.371) (59.5,0.348) (59.7,0.371) (60.1,0.355)
(60.4,0.367) (60.7,0.340) (61.1,0.355) (61.5,0.363) (61.9,0.333) (62.2,0.313) (62.6,0.351) (62.9,0.336) (63.4,0.351) (63.7,0.340)
(64.0,0.333) (64.4,0.309) (64.7,0.294) (65.1,0.267) (65.5,0.264) (65.9,0.248) (66.3,0.237) (66.6,0.267) (67.1,0.317) (67.4,0.294)
(67.8,0.286) (68.1,0.271) (68.5,0.275) (68.9,0.260) (69.3,0.244) (69.6,0.275) (69.9,0.302) (70.2,0.286) (70.6,0.294) (71.0,0.279)
(71.4,0.286) (71.8,0.264) (72.1,0.290) (72.6,0.315) (72.9,0.294) (73.3,0.317) (73.7,0.290) (74.0,0.271) (74.4,0.286) (74.8,0.267)
(75.2,0.286) (75.6,0.306) (75.9,0.294) (76.3,0.302) (76.7,0.317) (77.1,0.294) (77.5,0.286) (77.8,0.275) (78.4,0.267) (79.0,0.248)
(79.5,0.229) (80.0,0.214) (80.5,0.195) (80.8,0.175) (81.1,0.202) (81.5,0.218) (81.8,0.195) (82.2,0.183) (82.6,0.210) (83.0,0.221)
(83.3,0.202) (83.7,0.187) (84.0,0.175) (84.3,0.210) (84.7,0.221) (85.1,0.233) (85.4,0.225) (85.8,0.241) (86.2,0.244) (86.6,0.241)
(86.9,0.260) (87.3,0.244) (87.7,0.241) (88.1,0.229) (88.5,0.225) (88.9,0.248) (89.3,0.241) (89.7,0.233) (90.0,0.233) (90.4,0.210)
(90.8,0.229) (91.2,0.221) (91.6,0.202) (92.0,0.195) (92.3,0.187) (92.7,0.191) (93.1,0.218) (93.4,0.237) (93.8,0.221) (94.2,0.214)
(94.5,0.225) (94.9,0.206) (95.3,0.198) (95.7,0.191) (96.2,0.179) (96.8,0.168) (97.4,0.160) (97.9,0.156) (98.2,0.147) (98.4,0.164)
(98.6,0.195) (98.9,0.206) (99.1,0.218) (99.4,0.202) (99.7,0.191) (99.9,0.229) (100.0,0.210)
};
\addplot[vline, forget plot] coordinates {(30,0.0305) (30,0.4226)};
\addplot[vline, forget plot] coordinates {(70,0.0305) (70,0.4226)};
\draw[jumparrow] (axis cs:34.55,0.2433) -- (axis cs:30.2,0.2005);
\node[jumptext] at (axis cs:35.1,0.2475) {Jump};
\draw[jumparrow] (axis cs:74.6,0.342) -- (axis cs:70.2,0.2999);
\node[jumptext] at (axis cs:75.05,0.348) {Jump};
\node[draw=black!22, rounded corners=2pt, fill=white, fill opacity=0.8, text opacity=1,
      anchor=north east, inner xsep=3pt, inner ysep=2.5pt, font=\fontsize{9.3}{10.5}\selectfont]
  at (axis description cs:0.9948,0.987)
  {\textcolor{hlR}{\rule[0.3em]{20pt}{1.6pt}}\hspace{6pt}Highlighted RTrajectory};
\end{axis}

% ---------------- Insets ----------------
\begin{axis}[insetax, at={(54.3pt,567.7pt)}, width=41.7pt, height=105.6pt]
\addplot[hlS, line width=1.5pt] coordinates {
(0,0.861) (0.032,0.703) (0.056,0.451) (0.08,0.356) (0.112,0.546) (0.144,0.719) (0.176,0.546) (0.208,0.514)
(0.24,0.609) (0.272,0.42) (0.304,0.262) (0.336,0.199) (0.352,0.161) (0.376,0.514) (0.4,0.798) (0.424,0.672)
(0.448,0.640) (0.472,0.577) (0.496,0.451) (0.512,0.388) (0.52,0.861) (0.544,0.924) (0.568,0.987) (0.592,0.893)
(0.624,0.987) (0.64,0.924) (0.672,0.830) (0.696,0.703) (0.72,0.767) (0.736,0.893) (0.768,0.798) (0.8,0.640)
(0.824,0.672) (0.848,0.703) (0.88,0.609) (0.904,0.546) (0.936,0.514) (0.96,0.451) (0.992,0.356)
};
\addplot[morange, dashed, line width=1pt] coordinates {(0.5,0) (0.5,1)};
\end{axis}

\begin{axis}[insetax, at={(970.7pt,683pt)}, width=42pt, height=104pt]
\addplot[hlI, line width=1.8pt] coordinates {
(0,0.583) (0.032,0.551) (0.063,0.471) (0.103,0.455) (0.127,0.407) (0.159,0.439) (0.19,0.375) (0.222,0.327)
(0.254,0.295) (0.286,0.231) (0.317,0.135) (0.341,0.167) (0.365,0.087) (0.397,0.135) (0.421,0.071) (0.444,0.135)
(0.468,0.295) (0.492,0.487) (0.524,0.551) (0.556,0.599) (0.587,0.535) (0.619,0.551) (0.651,0.503) (0.683,0.455)
(0.714,0.359) (0.746,0.327) (0.778,0.375) (0.81,0.423) (0.841,0.455) (0.865,0.423) (0.905,0.471) (0.944,0.439) (0.992,0.503)
};
\addplot[morange, dashed, line width=1pt] coordinates {(0.5,0) (0.5,1)};
\end{axis}

\begin{axis}[insetax, at={(54.3pt,126pt)}, width=88pt, height=174.3pt]
\addplot[hlR, line width=1.5pt] coordinates {
(0,0.101) (0.019,0.073) (0.045,0.069) (0.064,0.063) (0.087,0.025) (0.11,-0.008) (0.216,-0.008) (0.223,0.111)
(0.239,0.149) (0.261,0.14) (0.292,0.13) (0.322,0.12) (0.337,0.101) (0.348,0.187) (0.36,0.302) (0.375,0.264)
(0.383,0.398) (0.398,0.436) (0.405,0.359) (0.42,0.379) (0.436,0.493) (0.443,0.56) (0.466,0.532) (0.489,0.512)
(0.504,0.455) (0.527,0.398) (0.542,0.369) (0.557,0.379) (0.572,0.455) (0.587,0.532) (0.595,0.665) (0.602,0.78)
(0.617,0.761) (0.625,0.914) (0.64,0.837) (0.655,0.799) (0.67,0.742) (0.686,0.704) (0.701,0.646) (0.716,0.685)
(0.731,0.627) (0.739,0.742) (0.746,0.857) (0.761,0.837) (0.777,0.799) (0.792,0.761) (0.807,0.723) (0.814,0.78)
(0.822,0.876) (0.83,0.914) (0.837,1.03) (0.9,1.26)
};
\addplot[morange, dashed, line width=1pt] coordinates {(0.5,0) (0.5,1)};
\end{axis}

\end{tikzpicture}
\end{document}
